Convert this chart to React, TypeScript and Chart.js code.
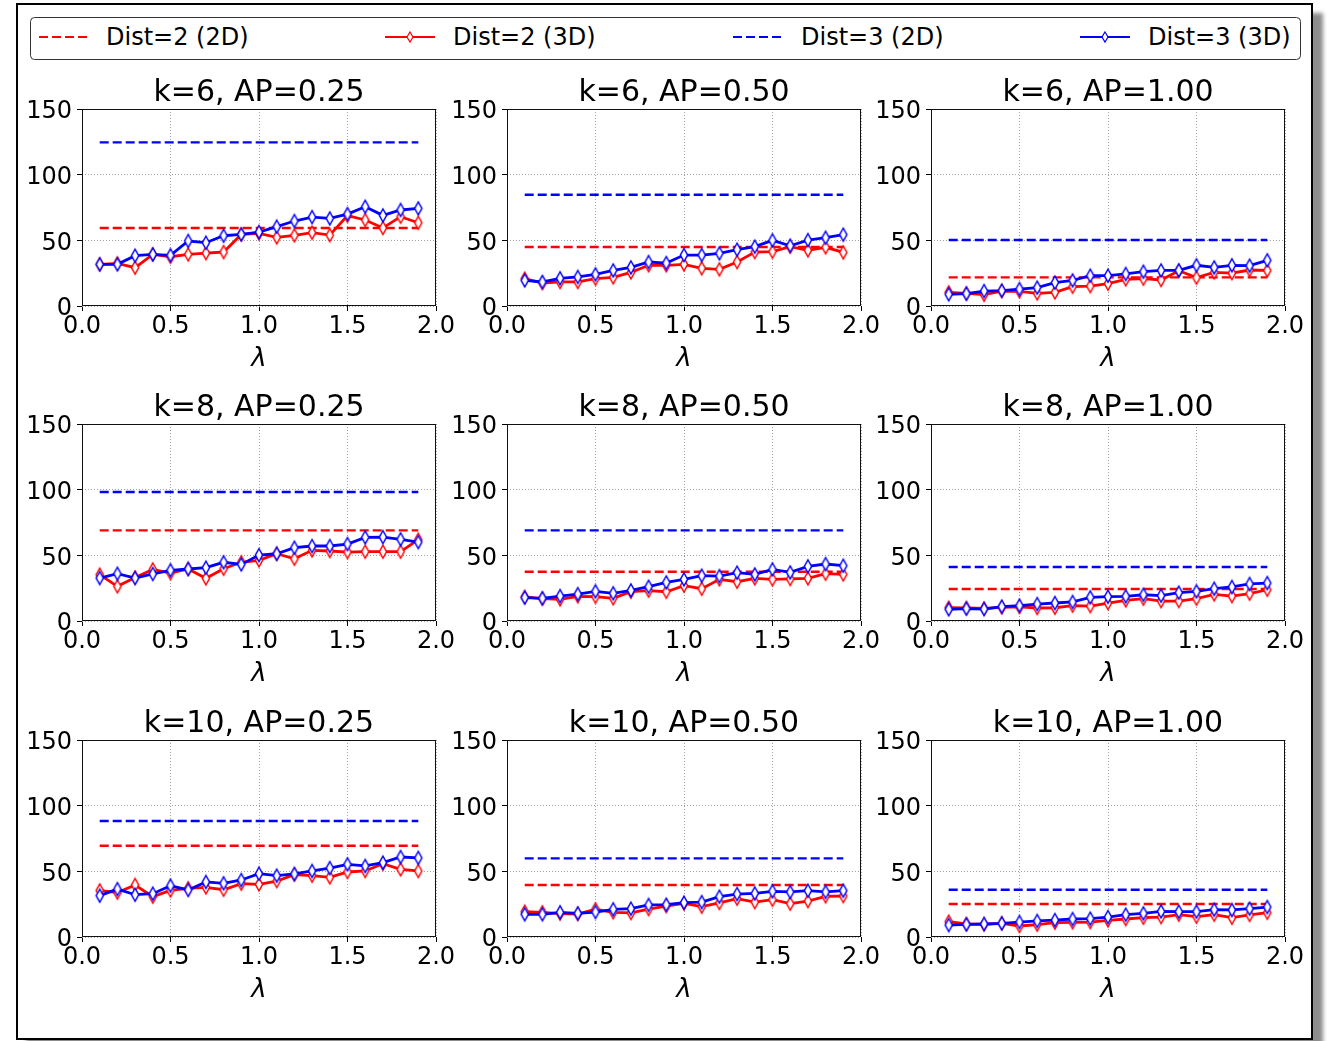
import React, { useEffect, useRef } from "react";
import { Chart, registerables } from "chart.js";

Chart.register(...registerables);
Chart.defaults.font.family = "'DejaVu Sans', sans-serif";

// ---------- data ----------
const lambdas = [0.1, 0.2, 0.3, 0.4, 0.5, 0.6, 0.7, 0.8, 0.9, 1.0, 1.1, 1.2, 1.3, 1.4, 1.5, 1.6, 1.7, 1.8, 1.9];
const xTickValues = [0, 0.5, 1.0, 1.5, 2.0];
const yTickValues = [0, 50, 100, 150];

const panelTitles = [
  "k=6, AP=0.25", "k=6, AP=0.50", "k=6, AP=1.00",
  "k=8, AP=0.25", "k=8, AP=0.50", "k=8, AP=1.00",
  "k=10, AP=0.25", "k=10, AP=0.50", "k=10, AP=1.00",
];

const seriesNames = ["Dist=2 (2D)", "Dist=2 (3D)", "Dist=3 (2D)", "Dist=3 (3D)"];

// 2D baselines (constant per panel)
const dist2_2D = [59.4, 44.9, 21.8, 69.0, 37.5, 24.4, 69.5, 39.6, 25.1];
const dist3_2D = [124.6, 84.7, 50.2, 98.2, 69.0, 41.1, 88.3, 59.9, 36.0];

// 3D curves
const d2_k6_ap025 = [31.7, 32.5, 29.2, 39.3, 37.5, 39.3, 40.3, 41.1, 54.5, 55.3, 52.3, 53.8, 55.8, 54.0, 68.8, 65.5, 59.4, 68.0, 63.4];
const d3_k6_ap025 = [31.7, 31.7, 38.3, 39.3, 38.6, 49.5, 48.2, 53.5, 54.5, 56.3, 60.4, 64.7, 67.7, 66.7, 70.0, 75.6, 69.0, 73.1, 74.3];
const d2_k6_ap050 = [20.8, 17.5, 18.3, 18.3, 20.8, 21.8, 25.6, 31.0, 31.0, 31.7, 28.7, 27.9, 33.5, 41.1, 41.4, 45.2, 42.4, 44.7, 40.8];
const d3_k6_ap050 = [19.5, 18.3, 21.1, 22.1, 24.1, 27.1, 29.4, 33.5, 32.7, 38.8, 38.8, 40.1, 42.9, 45.2, 50.0, 45.9, 50.2, 52.0, 54.3];
const d2_k6_ap100 = [10.4, 9.6, 8.6, 11.4, 11.2, 9.6, 10.4, 14.7, 15.2, 17.0, 20.3, 20.8, 19.8, 26.9, 21.6, 25.6, 25.1, 27.4, 27.1];
const d3_k6_ap100 = [8.9, 9.4, 11.4, 11.7, 12.9, 14.0, 17.8, 19.5, 23.1, 23.1, 24.4, 26.1, 27.1, 27.1, 31.0, 29.4, 31.0, 30.7, 34.8];

const d2_k8_ap025 = [35.3, 26.4, 33.2, 39.3, 36.5, 39.6, 32.5, 39.8, 44.7, 46.2, 51.2, 47.4, 53.8, 53.3, 52.5, 52.8, 52.8, 52.8, 61.9];
const d3_k8_ap025 = [32.7, 36.0, 32.7, 35.8, 38.6, 39.6, 40.6, 44.7, 43.1, 50.2, 51.2, 55.8, 57.1, 57.1, 58.6, 63.7, 63.9, 62.2, 60.1];
const d2_k8_ap050 = [18.3, 17.0, 16.5, 18.8, 18.5, 17.3, 22.3, 23.1, 22.3, 26.9, 24.6, 31.7, 29.9, 32.5, 31.7, 32.0, 32.5, 36.0, 35.5];
const d3_k8_ap050 = [17.8, 17.3, 19.0, 20.5, 22.6, 21.1, 23.3, 26.1, 29.4, 31.7, 34.5, 34.2, 36.8, 35.5, 39.3, 37.0, 41.6, 43.4, 42.1];
const d2_k8_ap100 = [10.1, 9.9, 9.6, 10.4, 10.7, 9.9, 10.1, 11.7, 11.4, 13.7, 15.7, 17.0, 15.2, 15.2, 17.0, 20.3, 19.0, 20.8, 23.8];
const d3_k8_ap100 = [8.9, 9.4, 9.1, 10.9, 11.7, 12.9, 13.7, 14.5, 18.0, 18.5, 18.8, 20.0, 19.3, 21.6, 22.6, 24.6, 25.9, 28.2, 28.9];

const d2_k10_ap025 = [35.5, 33.8, 39.6, 30.7, 35.5, 37.1, 37.8, 36.0, 40.6, 40.1, 42.6, 47.5, 46.7, 45.4, 49.5, 50.3, 55.8, 51.5, 50.3];
const d3_k10_ap025 = [31.5, 36.5, 32.2, 33.0, 39.1, 35.8, 41.9, 40.9, 43.4, 48.2, 46.7, 48.0, 50.3, 52.5, 55.3, 54.1, 56.6, 60.9, 60.2];
const d2_k10_ap050 = [19.3, 18.8, 17.8, 17.5, 21.1, 18.8, 18.3, 21.3, 23.6, 25.6, 23.1, 25.9, 29.2, 26.6, 28.4, 25.4, 27.4, 31.0, 31.2];
const d3_k10_ap050 = [17.3, 17.3, 18.8, 18.0, 19.0, 21.1, 21.6, 24.4, 24.6, 26.1, 26.6, 30.7, 32.7, 33.2, 34.8, 34.3, 35.3, 34.3, 35.3];
const d2_k10_ap100 = [11.7, 9.9, 9.6, 10.4, 8.4, 9.4, 10.9, 11.2, 11.4, 12.7, 13.7, 14.7, 15.2, 17.0, 15.5, 17.0, 14.7, 16.8, 18.5];
const d3_k10_ap100 = [9.1, 9.6, 9.9, 10.4, 11.4, 12.2, 12.9, 13.7, 14.0, 15.2, 17.0, 18.0, 19.5, 19.3, 19.3, 20.8, 20.6, 21.6, 22.8];

const dist2_3D = [d2_k6_ap025, d2_k6_ap050, d2_k6_ap100, d2_k8_ap025, d2_k8_ap050, d2_k8_ap100, d2_k10_ap025, d2_k10_ap050, d2_k10_ap100];
const dist3_3D = [d3_k6_ap025, d3_k6_ap050, d3_k6_ap100, d3_k8_ap025, d3_k8_ap050, d3_k8_ap100, d3_k10_ap025, d3_k10_ap050, d3_k10_ap100];

// ---------- layout ----------
const RED = "#ff0000";
const BLUE = "#0000ff";
const FONT = "'DejaVu Sans', sans-serif";
const CANVAS_W = 440;
const CANVAS_H = 297; // 31 (title) + 197 (plot) + 69 (x axis)
const colLefts = [18, 443, 867];
const rowTops = [78, 393, 709];

function makeDiamond(color: string): HTMLCanvasElement {
  const c = document.createElement("canvas");
  c.width = 12;
  c.height = 17;
  const ctx = c.getContext("2d")!;
  ctx.beginPath();
  ctx.moveTo(6, 2);
  ctx.lineTo(9.6, 8.5);
  ctx.lineTo(6, 15);
  ctx.lineTo(2.4, 8.5);
  ctx.closePath();
  ctx.fillStyle = "#ffffff";
  ctx.fill();
  ctx.lineWidth = 1.5;
  ctx.strokeStyle = color;
  ctx.stroke();
  return c;
}

const framePlugin = {
  id: "frameBox",
  afterDatasetsDraw(chart: any) {
    const { left, top, right, bottom } = chart.chartArea;
    const ctx = chart.ctx;
    ctx.save();
    ctx.strokeStyle = "#111";
    ctx.lineWidth = 1;
    ctx.setLineDash([]);
    ctx.strokeRect(Math.round(left) + 0.5, Math.round(top) + 0.5, Math.round(right - left) - 1, Math.round(bottom - top) - 1);
    ctx.restore();
  },
};

function Panel({ idx }: { idx: number }) {
  const ref = useRef<HTMLCanvasElement | null>(null);
  useEffect(() => {
    if (!ref.current) return;
    const redD = makeDiamond(RED);
    const blueD = makeDiamond(BLUE);
    const pts = (arr: number[]) => lambdas.map((x, i) => ({ x, y: arr[i] }));
    const flat = (v: number) => lambdas.map((x) => ({ x, y: v }));
    const chart = new Chart(ref.current, {
      type: "line",
      data: {
        datasets: [
          {
            label: seriesNames[0],
            data: flat(dist2_2D[idx]),
            borderColor: RED,
            borderWidth: 2.4,
            borderDash: [9, 4],
            pointRadius: 0,
            fill: false,
            order: 3,
          },
          {
            label: seriesNames[1],
            data: pts(dist2_3D[idx]),
            borderColor: RED,
            borderWidth: 2.8,
            pointStyle: redD as any,
            pointRadius: 5,
            fill: false,
            order: 2,
          },
          {
            label: seriesNames[2],
            data: flat(dist3_2D[idx]),
            borderColor: BLUE,
            borderWidth: 2.4,
            borderDash: [9, 4],
            pointRadius: 0,
            fill: false,
            order: 1,
          },
          {
            label: seriesNames[3],
            data: pts(dist3_3D[idx]),
            borderColor: BLUE,
            borderWidth: 2.8,
            pointStyle: blueD as any,
            pointRadius: 5,
            fill: false,
            order: 0,
          },
        ],
      },
      options: {
        animation: false,
        responsive: false,
        devicePixelRatio: 1,
        layout: { padding: { left: 0, right: 22, top: 0, bottom: 0 } },
        plugins: {
          legend: { display: false },
          tooltip: { enabled: false },
          title: {
            display: true,
            fullSize: false,
            text: panelTitles[idx],
            color: "#000",
            font: { family: FONT, size: 30, weight: "normal", lineHeight: "31px" },
            padding: { top: 0, bottom: 0 },
          },
        },
        scales: {
          x: {
            type: "linear",
            min: 0,
            max: 2,
            afterBuildTicks: (scale: any) => {
              scale.ticks = xTickValues.map((v) => ({ value: v }));
            },
            ticks: {
              color: "#000",
              font: { family: FONT, size: 24, lineHeight: 1.2 },
              padding: 1.5,
              maxRotation: 0,
              autoSkip: false,
              callback: (v: any) => Number(v).toFixed(1),
            },
            grid: {
              color: "#a0a0a0",
              lineWidth: 1,
              drawTicks: true,
              tickLength: 5,
              tickColor: "#000",
              tickWidth: 1,
            },
            border: { display: false, dash: [1, 2] },
            title: {
              display: true,
              text: "λ",
              color: "#000",
              font: { family: FONT, size: 26, style: "italic", lineHeight: 1.2 },
              padding: { top: 1, bottom: 0 },
            },
          },
          y: {
            type: "linear",
            min: 0,
            max: 150,
            afterBuildTicks: (scale: any) => {
              scale.ticks = yTickValues.map((v) => ({ value: v }));
            },
            afterFit: (scale: any) => {
              scale.width = 64;
            },
            ticks: {
              color: "#000",
              font: { family: FONT, size: 24, lineHeight: 1.2 },
              padding: 5,
              labelOffset: 3,
              autoSkip: false,
            },
            grid: {
              color: "#a0a0a0",
              lineWidth: 1,
              drawTicks: true,
              tickLength: 5,
              tickColor: "#000",
              tickWidth: 1,
            },
            border: { display: false, dash: [1, 2] },
          },
        },
      } as any,
      plugins: [framePlugin],
    });
    return () => chart.destroy();
  }, [idx]);
  const col = idx % 3;
  const row = Math.floor(idx / 3);
  return (
    <canvas
      ref={ref}
      width={CANVAS_W}
      height={CANVAS_H}
      style={{ position: "absolute", left: colLefts[col], top: rowTops[row], width: CANVAS_W, height: CANVAS_H }}
    />
  );
}

function Legend() {
  const items = [
    { x1: 39, x2: 87, tx: 106, color: RED, dashed: true, marker: false },
    { x1: 385, x2: 435, tx: 453, color: RED, dashed: false, marker: true },
    { x1: 733, x2: 781, tx: 801, color: BLUE, dashed: true, marker: false },
    { x1: 1080, x2: 1130, tx: 1148, color: BLUE, dashed: false, marker: true },
  ];
  const cy = 37;
  return (
    <svg width={1327} height={70} style={{ position: "absolute", left: 0, top: 0 }}>
      <rect x={30.5} y={17.5} width={1270} height={42} rx={4} ry={4} fill="#fff" stroke="#333" strokeWidth={1} />
      {items.map((it, i) => {
        const mx = (it.x1 + it.x2) / 2;
        return (
          <g key={i}>
            <line
              x1={it.x1}
              y1={cy}
              x2={it.x2}
              y2={cy}
              stroke={it.color}
              strokeWidth={2}
              strokeDasharray={it.dashed ? "9 4" : undefined}
            />
            {it.marker && (
              <polygon
                points={`${mx},${cy - 5} ${mx + 3},${cy} ${mx},${cy + 5} ${mx - 3},${cy}`}
                fill="#fff"
                stroke={it.color}
                strokeWidth={1.2}
              />
            )}
            <text x={it.tx} y={cy} dominantBaseline="central" fontFamily={FONT} fontSize={24} fill="#000">
              {seriesNames[i]}
            </text>
          </g>
        );
      })}
    </svg>
  );
}

export default function App() {
  const idxs = [0, 1, 2, 3, 4, 5, 6, 7, 8];
  return (
    <div style={{ position: "absolute", left: 0, top: 0, width: 1327, height: 1041, overflow: "hidden", background: "#fff" }}>
      <div
        style={{
          position: "absolute",
          left: 16,
          top: 3,
          width: 1297,
          height: 1037,
          boxSizing: "border-box",
          border: "2px solid #000",
          boxShadow: "10px 10px 4px rgba(0,0,0,0.45)",
          background: "#fff",
        }}
      />
      <Legend />
      {idxs.map((i) => (
        <Panel key={i} idx={i} />
      ))}
    </div>
  );
}
